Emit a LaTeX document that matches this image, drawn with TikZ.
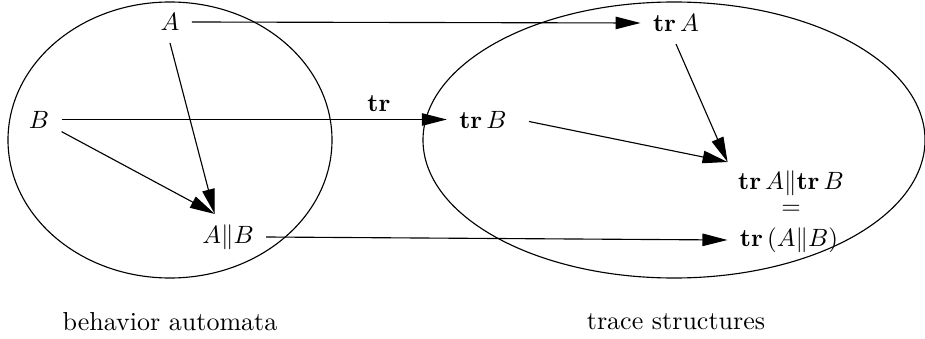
\documentclass[tikz,border=0pt]{standalone}
\usetikzlibrary{arrows.meta}
\begin{document}
\begin{tikzpicture}[x=0.4pt,y=-0.4pt,
  lbl/.style={inner sep=5pt,outer sep=0pt},
  arr/.style={-{Triangle[length=10pt,width=5pt]},line width=0.45pt},
  captext/.style={font=\fontsize{10.4}{12}\selectfont,inner sep=0pt}]
\useasboundingbox (0,0) rectangle (925,339);
\draw[line width=0.45pt] (170,140) ellipse [x radius=64.8pt, y radius=55.2pt];
\draw[line width=0.45pt] (674,140) ellipse [x radius=100.4pt, y radius=55.2pt];
\node[lbl] (A) at (170,22) {$A$};
\node[lbl] (B) at (39,119.5) {$B$};
\node[lbl] (AB) at (228,237) {$A\|B$};
\node[lbl] (trA) at (676,23) {$\mathbf{tr}\,A$};
\node[lbl] (trB) at (483,119.5) {$\mathbf{tr}\,B$};
\node[lbl] (trAtrB) at (791,183) {$\mathbf{tr}\,A\|\mathbf{tr}\,B$};
\node[lbl] (eq) at (791,210) {$=$};
\node[lbl] (trAB) at (789,240) {$\mathbf{tr}\,(A\|B)$};
\node[inner sep=0pt] (tr) at (379,104) {$\mathbf{tr}$};
\node[captext] (ba) at (170,322) {behavior automata};
\node[captext] (ts) at (676,322) {trace structures};
\draw[arr] (A.east) -- (trA.west);
\draw[arr] (B.east) -- (trB.west);
\draw[arr] (AB.east) -- (trAB.west);
\draw[arr] (A.south) -- ([shift={(25,2)}]AB.north west);
\draw[arr] (B) -- ([shift={(25,2)}]AB.north west);
\draw[arr] (trA.south) -- ([shift={(2,4)}]trAtrB.north west);
\draw[arr,shorten <=4pt] (trB.east) -- ([shift={(2,4)}]trAtrB.north west);
\end{tikzpicture}
\end{document}
